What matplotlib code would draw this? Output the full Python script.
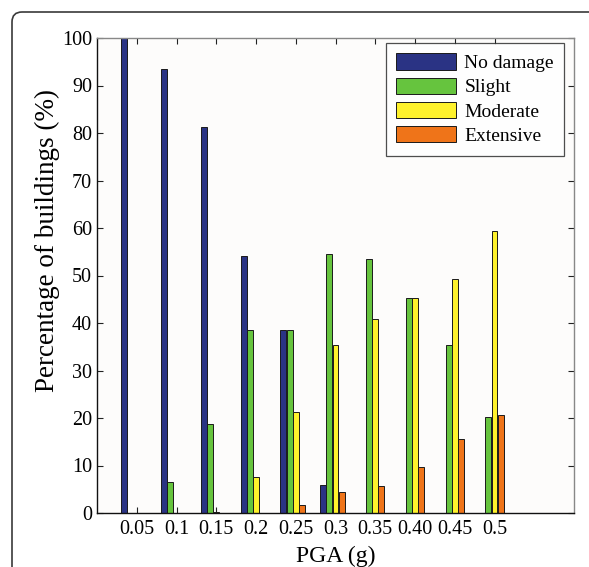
import matplotlib
matplotlib.use("Agg")
import matplotlib.pyplot as plt
import numpy as np
from matplotlib.patches import FancyBboxPatch

plt.rcParams['font.family'] = ['Liberation Serif', 'DejaVu Serif']

pga_labels = ["0.05", "0.1", "0.15", "0.2", "0.25", "0.3", "0.35", "0.40", "0.45", "0.5"]
no_damage = [100.0, 93.5, 81.2, 54.2, 38.5, 5.9, 0.0, 0.0, 0.0, 0.0]
slight = [0.0, 6.6, 18.8, 38.5, 38.5, 54.6, 53.4, 45.2, 35.4, 20.3]
moderate = [0.0, 0.0, 0.3, 7.5, 21.3, 35.4, 40.8, 45.2, 49.2, 59.3]
extensive = [0.0, 0.0, 0.0, 0.0, 1.7, 4.4, 5.7, 9.7, 15.5, 20.6]

series = [
    ("No damage", no_damage, "#2a3384"),
    ("Slight", slight, "#66c43e"),
    ("Moderate", moderate, "#fff22c"),
    ("Extensive", extensive, "#ef7419"),
]

fig = plt.figure(figsize=(5.89, 5.67), dpi=100)
fig.patch.set_facecolor("white")
ax = fig.add_axes([97 / 589, 54 / 567, (574 - 97) / 589, (513 - 38) / 567])
ax.set_facecolor("#fdfcfb")

x = np.arange(1, len(pga_labels) + 1)
step = 0.155
width = 0.15
for i, (name, vals, color) in enumerate(series):
    ax.bar(x + (i - 2) * step, vals, width=width, color=color,
           edgecolor="#1a1a1a", linewidth=0.7, label=name, zorder=2)

ax.set_xlim(0, 12)
ax.set_ylim(0, 100)
ax.set_xticks(x)
ax.set_xticklabels(pga_labels)
ax.set_yticks(np.arange(0, 101, 10))
ax.tick_params(direction="in", top=True, right=True, length=4, width=0.8,
               labelsize=14.5, colors="#222222", labelcolor="black")
ax.tick_params(axis="x", pad=5)
ax.tick_params(axis="y", pad=3.5)
for side in ("left", "bottom"):
    ax.spines[side].set_color("#111111")
    ax.spines[side].set_linewidth(1.0)
for side in ("top", "right"):
    ax.spines[side].set_color("#888888")
    ax.spines[side].set_linewidth(1.0)

ax.set_xlabel("PGA (g)", fontsize=17, labelpad=5)
ax.set_ylabel("Percentage of buildings (%)", fontsize=19.5)
ax.yaxis.set_label_coords(-0.077, 0.573)

leg = ax.legend(loc="upper right", bbox_to_anchor=(0.98, 0.99), fontsize=14,
                frameon=True, fancybox=False, handlelength=3.1, handleheight=0.9,
                handletextpad=0.4, borderpad=0.55, labelspacing=0.28,
                borderaxespad=0.0)
leg.get_frame().set_edgecolor("#222222")
leg.get_frame().set_linewidth(0.9)
leg.get_frame().set_facecolor("white")

# rounded border around the panel
frame = FancyBboxPatch((0.12, -0.5), 7.0, 6.05,
                       boxstyle="round,pad=0,rounding_size=0.1",
                       transform=fig.dpi_scale_trans, fill=False,
                       edgecolor="#3a3a3a", linewidth=1.2, clip_on=False)
fig.add_artist(frame)

fig.savefig("out.png", dpi=100)
